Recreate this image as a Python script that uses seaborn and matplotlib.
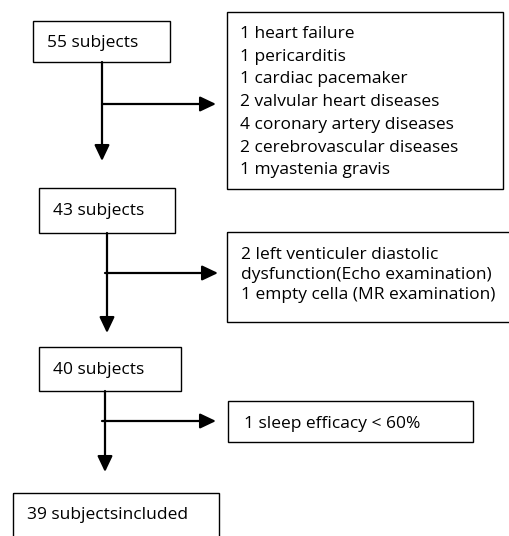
import matplotlib
matplotlib.use("Agg")
import matplotlib.pyplot as plt
import seaborn as sns
from matplotlib.patches import Rectangle

# Flow of subjects through the exclusion steps
subject_counts = [55, 43, 40, 39]
main_labels = ["55 subjects", "43 subjects", "40 subjects", "39 subjectsincluded"]

excluded_step1 = ["1 heart failure", "1 pericarditis", "1 cardiac pacemaker",
                  "2 valvular heart diseases", "4 coronary artery diseases",
                  "2 cerebrovascular diseases", "1 myastenia gravis"]
excluded_step2 = ["2 left venticuler diastolic", "dysfunction(Echo examination)",
                  "1 empty cella (MR examination)"]
excluded_step3 = ["1 sleep efficacy < 60%"]
excluded = [excluded_step1, excluded_step2, excluded_step3]

sns.set_theme(style="white")
plt.rcParams["font.family"] = ["Open Sans", "DejaVu Sans"]

fig = plt.figure(figsize=(5.09, 5.36), dpi=100)
ax = fig.add_axes([0, 0, 1, 1])
ax.set_xlim(0, 509)
ax.set_ylim(536, 0)
ax.axis("off")

FS = 12.5

# main boxes: (x0, y0, x1, y1, text x, baseline y)
main_boxes = [(33, 21, 170, 62, 47, 47), (39, 188, 175, 233, 53, 215),
              (39, 347, 181, 391, 53, 374), (13, 493, 219, 545, 27, 519)]
# side boxes: (x0, y0, x1, y1, text x, first baseline y, line step)
side_boxes = [(227, 12, 503, 189, 240, 38, 22.7),
              (227, 232, 512, 322, 241, 259, 20),
              (228, 401, 473, 442, 244, 428, 20)]
# arrows: (x, y_top, y_tip, y_branch, x_branch_start, x_tip)
arrows = [(102, 62, 161, 104, 102, 216), (107, 233, 333, 273, 105, 218),
          (105, 391, 472, 421, 102, 216)]

head = "-|>,head_length=0.8,head_width=0.38"

for (x0, y0, x1, y1, tx, by), lab in zip(main_boxes, main_labels):
    ax.add_patch(Rectangle((x0, y0), x1 - x0, y1 - y0, fill=False,
                           edgecolor="black", linewidth=1.0))
    ax.text(tx, by, lab, fontsize=FS, va="baseline", ha="left", color="black")

for (x0, y0, x1, y1, tx, by, step), lines in zip(side_boxes, excluded):
    ax.add_patch(Rectangle((x0, y0), x1 - x0, y1 - y0, fill=False,
                           edgecolor="black", linewidth=1.0))
    for i, ln in enumerate(lines):
        ax.text(tx, by + i * step, ln, fontsize=FS, va="baseline", ha="left",
                color="black")

for x, yt, ytip, yb, xb, xtip in arrows:
    ax.annotate("", xy=(x, ytip), xytext=(x, yt),
                arrowprops=dict(arrowstyle=head, color="black", lw=1.6,
                                shrinkA=0, shrinkB=0))
    ax.annotate("", xy=(xtip, yb), xytext=(xb, yb),
                arrowprops=dict(arrowstyle=head, color="black", lw=1.6,
                                shrinkA=0, shrinkB=0))

fig.savefig("out.png", dpi=100)
